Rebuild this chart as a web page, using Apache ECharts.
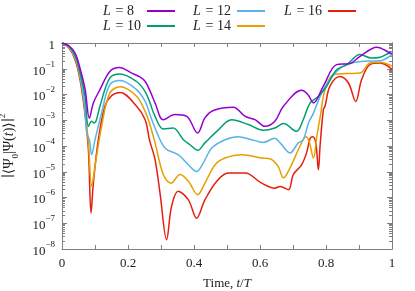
<!DOCTYPE html>
<html><head><meta charset="utf-8">
<script src="https://cdn.jsdelivr.net/npm/echarts@6/dist/echarts.min.js"></script>
<style>html,body{margin:0;padding:0;background:#fff}#c{width:415px;height:291px}</style>
</head><body><div id="c"></div>
<script>
// ---- data (t/T, |<Psi0|Psi(t)>|^2) ----
const tL8 = [0,0.02,0.04,0.055,0.07,0.083,0.095,0.115,0.145,0.174,0.211,0.236,0.252,0.265,0.282,0.307,0.342,0.378,0.411,0.433,0.459,0.519,0.555,0.585,0.615,0.645,0.671,0.726,0.745,0.762,0.792,0.832,0.873,0.903,0.954,0.994,1.0];
const yL8 = [1,0.79,0.40,0.10,0.016,1.2e-3,4.7e-3,0.0155,0.079,0.112,0.068,0.048,0.032,0.0155,4.7e-3,1.05e-3,1.66e-3,1.41e-3,3.2e-4,1.23e-3,2.4e-3,3.2e-3,1.41e-3,1.05e-3,5.8e-4,9.1e-4,3.5e-3,0.0145,0.010,4.7e-3,0.021,0.145,0.16,0.30,0.69,0.41,0.38];

const tL10 = [0,0.02,0.04,0.055,0.07,0.08,0.09,0.097,0.103,0.115,0.145,0.176,0.226,0.252,0.265,0.282,0.307,0.337,0.368,0.388,0.411,0.433,0.469,0.514,0.565,0.61,0.645,0.671,0.711,0.731,0.752,0.777,0.802,0.832,0.863,0.903,0.938,0.964,0.994,1.0];
const yL10 = [1,0.76,0.32,0.071,7.9e-3,5.8e-4,9.1e-4,7.9e-4,9.1e-4,3.5e-3,0.044,0.063,0.032,0.013,5.4e-3,1.41e-3,4.6e-4,5.0e-4,1.74e-4,1.12e-4,6.8e-5,1.32e-4,3.7e-4,1.05e-3,6.8e-4,4.1e-4,5.0e-4,7.4e-4,3.7e-4,1.05e-3,4.7e-3,8.5e-3,0.021,0.091,0.145,0.355,0.26,0.28,0.40,0.38];

const tL12 = [0,0.02,0.04,0.055,0.068,0.075,0.083,0.09,0.1,0.12,0.145,0.176,0.226,0.252,0.265,0.282,0.312,0.352,0.383,0.408,0.428,0.454,0.494,0.534,0.575,0.61,0.645,0.661,0.691,0.716,0.731,0.747,0.762,0.792,0.832,0.863,0.913,0.964,1.0];
const yL12 = [1,0.72,0.28,0.056,4.0e-3,3.2e-4,1.74e-4,4.6e-5,1.74e-4,1.9e-3,0.024,0.035,0.0155,5.4e-3,1.9e-3,5.0e-4,8.3e-5,4.6e-5,1.86e-5,1.02e-5,2.2e-5,8.3e-5,1.74e-4,2.3e-4,1.74e-4,1.38e-4,2.0e-4,1.32e-4,5.4e-5,1.32e-4,1.74e-4,7.8e-4,1.9e-3,0.0155,0.079,0.145,0.195,0.204,0.355];

const tL14 = [0,0.02,0.04,0.055,0.07,0.08,0.09,0.1,0.12,0.145,0.176,0.226,0.252,0.265,0.282,0.307,0.33,0.358,0.383,0.411,0.433,0.464,0.494,0.545,0.605,0.63,0.655,0.671,0.691,0.721,0.739,0.749,0.762,0.772,0.782,0.797,0.822,0.863,0.903,0.933,0.964,1.0];
const yL14 = [1,0.69,0.25,0.045,2.5e-3,1.32e-4,2.7e-6,1.62e-5,5.8e-4,0.0115,0.020,8.5e-3,2.2e-3,7.8e-4,1.32e-4,7.8e-6,3.6e-6,7.8e-6,4.3e-6,1.29e-6,3.6e-6,1.86e-5,3.4e-5,4.6e-5,3.4e-5,3.2e-5,1.62e-5,5.8e-6,1.41e-5,9.8e-5,2.3e-4,1.51e-4,3.4e-5,2.3e-4,1.26e-3,0.0155,0.059,0.065,0.068,0.166,0.178,0.126];

const tL16 = [0,0.02,0.04,0.055,0.07,0.08,0.088,0.095,0.11,0.13,0.15,0.176,0.226,0.252,0.265,0.282,0.297,0.317,0.332,0.352,0.383,0.408,0.433,0.469,0.504,0.555,0.605,0.645,0.661,0.686,0.701,0.726,0.741,0.752,0.76,0.769,0.777,0.782,0.792,0.797,0.812,0.842,0.868,0.89,0.908,0.933,0.964,1.0];
const yL16 = [1,0.66,0.22,0.035,1.58e-3,7.2e-5,2.5e-7,3.6e-6,1.74e-4,3.5e-3,8.9e-3,0.012,3.5e-3,1.05e-3,1.74e-4,2.95e-5,1.48e-6,2.3e-8,4.5e-7,1.74e-6,8.1e-7,1.58e-7,8.1e-7,4.3e-6,8.9e-6,8.9e-6,3.6e-6,2.3e-6,2.7e-6,2.0e-6,7.8e-6,1.86e-5,5.4e-5,2.0e-4,2.3e-4,1.32e-4,1.2e-5,9.8e-5,2.6e-3,3.5e-3,0.021,0.05,0.028,5.4e-3,0.038,0.145,0.166,0.095];

const seriesNames = ['L8','L10','L12','L14','L16'];
const seriesLabels = ['8','10','12','14','16'];
const colors = ['#9400d3','#009e73','#56b4e9','#e69f00','#e51e10'];
const xTicks = [0,0.1,0.2,0.3,0.4,0.5,0.6,0.7,0.8,0.9,1];
const yMajor = [1e-8,1e-7,1e-6,1e-5,1e-4,1e-3,1e-2,1e-1,1];

const tData = [tL8,tL10,tL12,tL14,tL16];
const yData = [yL8,yL10,yL12,yL14,yL16];

const yMinor = [];
for (let k = -8; k < 0; k++) for (let m = 2; m <= 9; m++) yMinor.push(m * Math.pow(10, k));

const serif = '"Liberation Serif", "DejaVu Serif", serif';
const axisColor = '#808080';

const series = seriesNames.map((n, i) => ({
  name: n, type: 'line', symbol: 'none', smooth: 0.35,
  xAxisIndex: 0, yAxisIndex: 0,
  lineStyle: { color: colors[i], width: 1.5 },
  itemStyle: { color: colors[i] },
  data: tData[i].map((t, j) => [t, yData[i][j]]),
  z: 10 - i
}));

// legend layout: [name, left, top]
const legendPos = [['L8',103,4],['L12',193,4],['L16',284,4],['L10',103,19],['L14',193,19]];
const legends = legendPos.map(p => ({
  data: [p[0]], left: p[1], top: p[2], align: 'right', orient: 'horizontal',
  icon: 'rect', itemWidth: 28, itemHeight: 2, itemGap: 0, padding: 0,
  formatter: name => '{i|L}{t| = ' + seriesLabels[seriesNames.indexOf(name)] + '}',
  textStyle: { fontFamily: serif, fontSize: 14, color: '#222',
    rich: {
      i: { fontFamily: serif, fontSize: 14, fontStyle: 'italic', color: '#222', width: 9, align: 'left' },
      t: { fontFamily: serif, fontSize: 14, color: '#222', width: 30, align: 'left' } } }
}));

const xCommon = {
  type: 'value', min: 0, max: 1, interval: 0.1,
  axisLine: { show: true, lineStyle: { color: axisColor, width: 1 } },
  splitLine: { show: false }
};
const yCommon = {
  type: 'log', logBase: 10, min: 1e-8, max: 1,
  axisLine: { show: true, lineStyle: { color: axisColor, width: 1 } },
  splitLine: { show: false }
};

const option = {
  animation: false,
  backgroundColor: '#fff',
  color: colors,
  legend: legends,
  grid: { left: 62, right: 23, top: 43, bottom: 42, containLabel: false, outerBoundsMode: 'none' },
  xAxis: [
    Object.assign({}, xCommon, {
      position: 'bottom',
      name: '{a|Time, }{b|t}{a|/}{b|T}', nameLocation: 'middle', nameGap: 28,
      nameTextStyle: { rich: {
        a: { fontFamily: serif, fontSize: 13, color: '#222' },
        b: { fontFamily: serif, fontSize: 13, color: '#222', fontStyle: 'italic' } } },
      axisLabel: {
        show: true, margin: 8, fontFamily: serif, fontSize: 13, color: '#222',
        customValues: xTicks,
        formatter: v => { const k = Math.round(v * 10); if (k % 2) return ''; return k === 0 ? '0' : (k === 10 ? '1' : (k / 10).toFixed(1)); }
      },
      axisTick: { show: true, inside: true, length: 4, lineStyle: { color: axisColor }, customValues: xTicks }
    }),
    Object.assign({}, xCommon, {
      position: 'top', axisLabel: { show: false },
      axisTick: { show: true, inside: true, length: 4, lineStyle: { color: axisColor }, customValues: xTicks }
    })
  ],
  yAxis: [
    Object.assign({}, yCommon, {
      position: 'left',
      name: '{a|\u2223\u27E8\u03A8}{s|0}{a||\u03A8(}{b|t}{a|)\u27E9\u2223}{p|2}',
      nameLocation: 'middle', nameGap: 42, nameRotate: 90,
      nameTextStyle: { rich: {
        a: { fontFamily: serif, fontSize: 14, color: '#222' },
        b: { fontFamily: serif, fontSize: 14, color: '#222', fontStyle: 'italic' },
        s: { fontFamily: serif, fontSize: 9, color: '#222', verticalAlign: 'bottom', lineHeight: 22 },
        p: { fontFamily: serif, fontSize: 9, color: '#222', verticalAlign: 'top', lineHeight: 22 } } },
      axisLabel: {
        show: true, margin: 7, customValues: yMajor,
        formatter: v => { const e = Math.round(Math.log10(v)); return e === 0 ? '{b|1}' : '{b|10}{s|\u2212' + (-e) + '}'; },
        rich: {
          b: { fontFamily: serif, fontSize: 13, color: '#222', lineHeight: 18, verticalAlign: 'bottom' },
          s: { fontFamily: serif, fontSize: 9, color: '#222', lineHeight: 18, verticalAlign: 'top' } }
      },
      axisTick: { show: true, inside: true, length: 5, lineStyle: { color: axisColor }, customValues: yMajor }
    }),
    Object.assign({}, yCommon, {
      position: 'left', axisLabel: { show: false },
      axisTick: { show: true, inside: true, length: 3, lineStyle: { color: axisColor }, customValues: yMinor }
    }),
    Object.assign({}, yCommon, {
      position: 'right', axisLabel: { show: false },
      axisTick: { show: true, inside: true, length: 5, lineStyle: { color: axisColor }, customValues: yMajor }
    }),
    Object.assign({}, yCommon, {
      position: 'right', axisLabel: { show: false },
      axisTick: { show: true, inside: true, length: 3, lineStyle: { color: axisColor }, customValues: yMinor }
    })
  ],
  series: series
};

const chart = echarts.init(document.getElementById('c'), null, { renderer: 'canvas' });
chart.setOption(option);
</script></body></html>
